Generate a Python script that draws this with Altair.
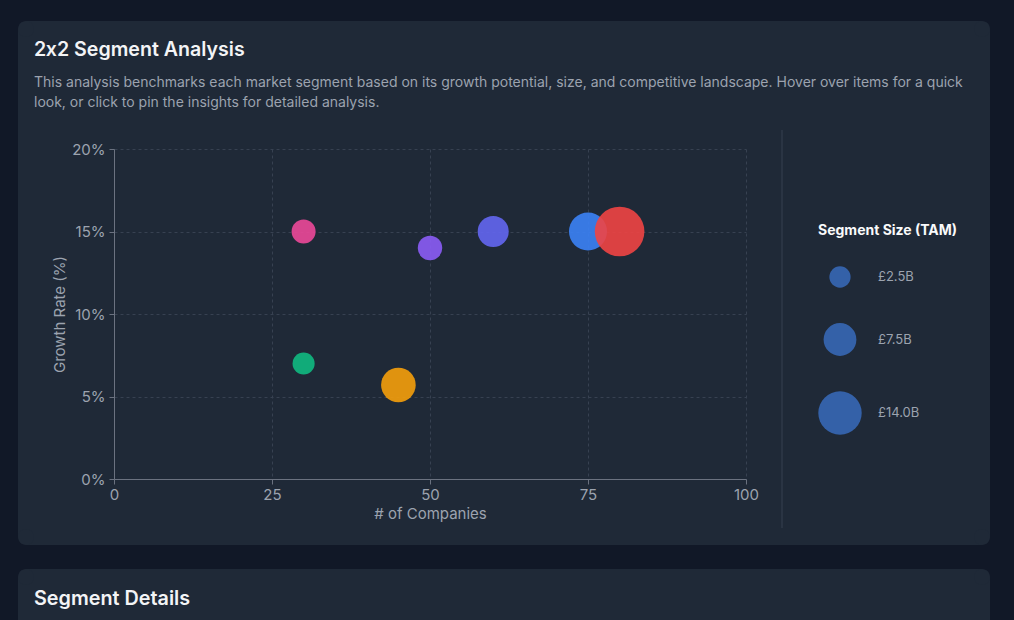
import altair as alt
import pandas as pd

# ---- data ----
segments = ["Pink", "Green", "Orange", "Purple", "Indigo", "Blue", "Red"]
companies = [30, 30, 45, 50, 60, 75, 80]
growth = [0.15, 0.07, 0.057, 0.14, 0.15, 0.15, 0.15]
tam = [3.5, 2.8, 8.5, 3.7, 6.6, 10.5, 18.6]
colors = ["#ec4899", "#10b981", "#f59e0b", "#8b5cf6", "#6366f1", "#3b82f6", "#ef4444"]
legend_values = [2.5, 7.5, 14.0]
x_ticks = [0, 25, 50, 75, 100]
y_ticks = [0, 0.05, 0.10, 0.15, 0.20]

# title "2x2 Segment Analysis" is split so the font does not turn "2x2" into "2×2"
title_head = "2"
title_rest = "x2 Segment Analysis"
subtitle_lines = [
    "This analysis benchmarks each market segment based on its growth potential, size, and competitive landscape. Hover over items for a quick",
    "look, or click to pin the insights for detailed analysis.",
]
second_title = "Segment Details"

df = pd.DataFrame({"segment": segments, "companies": companies, "growth": growth,
                   "tam": tam, "color": colors})
one = pd.DataFrame({"a": [0]})

FONT = "Inter"
PAGE = "#111827"
CARD = "#1f2937"
PLOT_W, PLOT_H = 632, 330
OX, OY = 114, 149  # plot origin in page pixels
R = 8

def px(x):
    return x - OX

def py(y):
    return y - OY

def box(x0, x1, y0, y1, fill, radius=0):
    return alt.Chart(one).mark_rect(fill=fill, cornerRadius=radius).encode(
        x=alt.value(px(min(x0, x1))), x2=alt.value(px(max(x0, x1))),
        y=alt.value(py(min(y0, y1))), y2=alt.value(py(max(y0, y1))))

# page margins around the cards (background is the card colour)
decor = [box(0, 1014, 0, 21, PAGE), box(0, 1014, 545, 569, PAGE),
         box(0, 18, 0, 620, PAGE), box(990, 1014, 0, 620, PAGE)]
# rounded card corners: (corner x, corner y, inward dx, inward dy)
corners = [(18, 21, 1, 1), (990, 21, -1, 1), (18, 545, 1, -1), (990, 545, -1, -1),
           (18, 569, 1, 1), (990, 569, -1, 1)]
for cx, cy, dx, dy in corners:
    decor.append(box(cx, cx + dx * R, cy, cy + dy * R, PAGE))
    decor.append(box(cx, cx + dx * 2 * R, cy, cy + dy * 2 * R, CARD, R))

def heading(text, x, y, size=19.6):
    return alt.Chart(one).mark_text(text=text, font=FONT, fontSize=size, fontWeight=600,
                                    color="#f3f4f6", align="left", baseline="middle").encode(
        x=alt.value(px(x)), y=alt.value(py(y)))

title_a = heading(title_head, 34, 50)
title_b = heading(title_rest, 45.8, 50)
subtitle = alt.Chart(one).mark_text(text=subtitle_lines, font=FONT, fontSize=14, lineHeight=20,
                                    color="#9ca3af", align="left", baseline="middle").encode(
    x=alt.value(px(34)), y=alt.value(py(83)))
title2 = heading(second_title, 34, 599, 19.8)
sep = alt.Chart(one).mark_rule(color="#374151", strokeWidth=1).encode(
    x=alt.value(px(782)), y=alt.value(py(130)), y2=alt.value(py(528)))

points = alt.Chart(df).mark_circle(opacity=0.9).encode(
    x=alt.X("companies:Q", title="# of Companies",
            scale=alt.Scale(domain=[0, 100], nice=False),
            axis=alt.Axis(values=x_ticks, labelFlush=False)),
    y=alt.Y("growth:Q", title="Growth Rate (%)",
            scale=alt.Scale(domain=[0, 0.2], nice=False),
            axis=alt.Axis(values=y_ticks, format=".0%", labelFlush=False)),
    color=alt.Color("color:N", scale=None),
    size=alt.Size("tam:Q", scale=alt.Scale(domain=[0, 20], range=[140, 2634], zero=False),
                  legend=alt.Legend(title="Segment Size (TAM)", values=legend_values,
                                    labelExpr="'£' + format(datum.value, '.1f') + 'B'")),
    order=alt.Order("tam:Q"),
)

chart = alt.layer(*decor, title_a, title_b, subtitle, title2, sep, points).properties(
    width=PLOT_W, height=PLOT_H,
    background=CARD,
    padding={"left": OX, "top": OY, "right": 1014 - OX - PLOT_W, "bottom": 620 - OY - PLOT_H},
    autosize=alt.AutoSizeParams(type="none"),
).configure_view(stroke=None).configure_axis(
    labelFont=FONT, titleFont=FONT, labelFontSize=15, titleFontSize=15,
    labelColor="#9ca3af", titleColor="#9ca3af", titleFontWeight="normal",
    domainColor="#6b7280", tickColor="#6b7280", tickSize=5,
    gridColor="#374151", gridDash=[3, 3], gridWidth=1,
).configure_axisX(labelPadding=3, titlePadding=4).configure_axisY(
    labelPadding=4, titlePadding=4
).configure_legend(
    orient="none", legendX=px(818), legendY=py(224), padding=0,
    titleFont=FONT, titleFontSize=14, titleFontWeight="bold", titleColor="#f9fafb",
    titlePadding=28, labelFont=FONT, labelFontSize=13, labelColor="#9ca3af",
    labelOffset=16, rowPadding=35, symbolFillColor="#3461a8", symbolStrokeWidth=0,
    symbolOpacity=1, symbolType="circle",
)

chart.save("out.html", embed_options={"renderer": "svg", "actions": False})
